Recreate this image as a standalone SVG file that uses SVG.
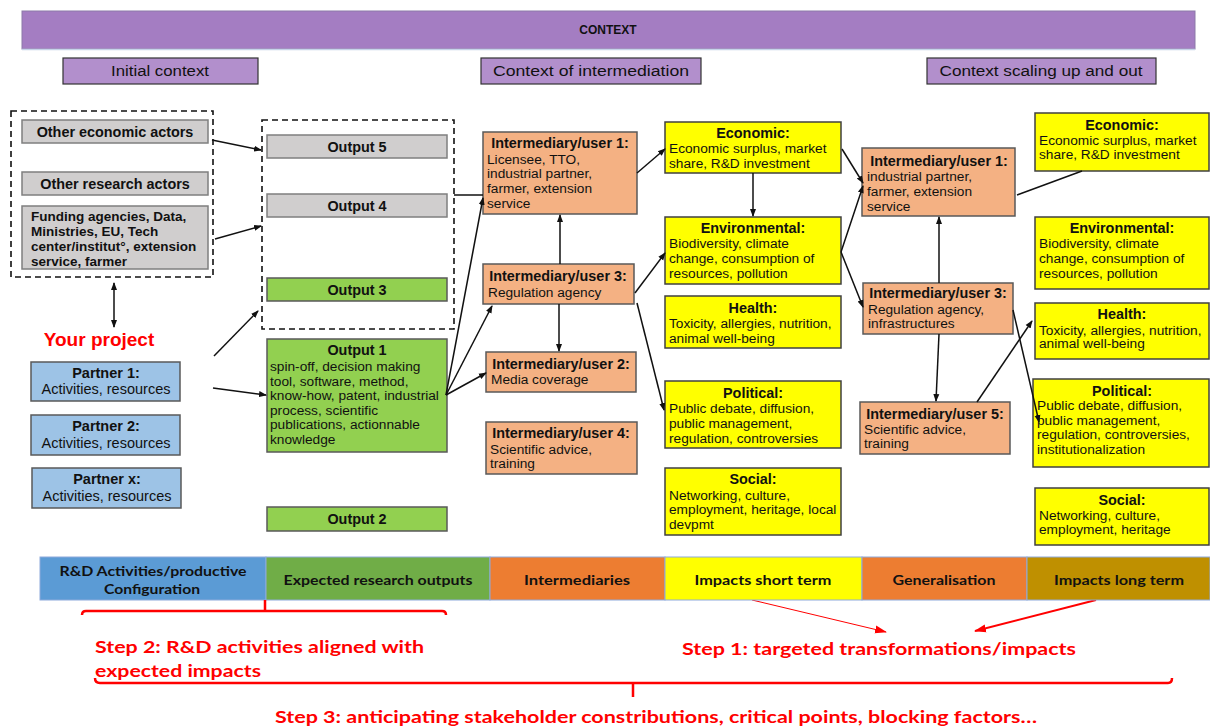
<svg xmlns="http://www.w3.org/2000/svg" width="1210" height="726" viewBox="0 0 1210 726">
<style>
text{font-family:"Liberation Sans",Arial,sans-serif;fill:#111}
.b{font-weight:bold}
.t13{font-size:13.7px}
.tb{font-size:14.4px;font-weight:bold}
.t12{font-size:13.5px;font-weight:bold}
.tp{font-size:14.5px}
.c{text-anchor:middle}
.ctx{fill:#b28fcc;stroke:#333;stroke-width:1.2}
.gray{fill:#d0cece;stroke:#7f7f7f;stroke-width:1.5}
.blue{fill:#9dc3e6;stroke:#595959;stroke-width:1.5}
.green{fill:#92d050;stroke:#595959;stroke-width:1.5}
.orange{fill:#f4b183;stroke:#595959;stroke-width:1.5}
.yellow{fill:#ffff00;stroke:#404040;stroke-width:1.5}
.dash{fill:none;stroke:#111;stroke-width:1.6;stroke-dasharray:6,4}
.ln{stroke:#111;stroke-width:1.5;fill:none}
.ar{marker-end:url(#ah)}
.red{fill:#ff0000;font-family:Lato,"Open Sans",sans-serif;font-weight:bold;font-size:17px}
.bar{font-family:Lato,"Open Sans",sans-serif;font-weight:bold;font-size:14px;text-anchor:middle}
.rl{stroke:#ff0000;fill:none;stroke-width:2.5}
</style>
<defs>
<marker id="ah" markerWidth="8" markerHeight="8" refX="7" refY="4" orient="auto" markerUnits="userSpaceOnUse">
<path d="M0,1 L8,4 L0,7 Z" fill="#111"/>
</marker>
<marker id="ahs" markerWidth="8" markerHeight="8" refX="1" refY="4" orient="auto" markerUnits="userSpaceOnUse">
<path d="M8,1 L0,4 L8,7 Z" fill="#111"/>
</marker>
<marker id="rah" markerWidth="12" markerHeight="10" refX="11" refY="5" orient="auto" markerUnits="userSpaceOnUse">
<path d="M0,1 L12,5 L0,9 Z" fill="#ff0000"/>
</marker>
</defs>

<g id="context">
<rect x="22" y="11" width="1173" height="38" fill="#a47dc2" stroke="#8c7aa8" stroke-width="1"/>
<line x1="22" y1="49.5" x2="1195" y2="49.5" stroke="#c5d3e8" stroke-width="1.5"/>
<text x="608" y="34" class="b c" font-size="12">CONTEXT</text>
</g>
<g id="initial-context">
<rect x="63" y="58" width="195" height="26" class="ctx"/>
<text x="160" y="76" class="c" font-size="14" textLength="98" lengthAdjust="spacingAndGlyphs">Initial context</text>
</g>
<g id="context-intermediation">
<rect x="481" y="58" width="220" height="26" class="ctx"/>
<text x="591" y="76" class="c" font-size="14" textLength="196" lengthAdjust="spacingAndGlyphs">Context of intermediation</text>
</g>
<g id="context-scaling">
<rect x="927" y="58" width="229" height="26" class="ctx"/>
<text x="1041" y="76" class="c" font-size="14" textLength="203" lengthAdjust="spacingAndGlyphs">Context scaling up and out</text>
</g>

<g id="actors-group">
<rect x="11" y="111" width="202" height="166" class="dash"/>
</g>
<g id="other-economic-actors">
<rect x="22" y="120" width="186" height="23" class="gray"/>
<text x="115" y="137" class="tb c">Other economic actors</text>
</g>
<g id="other-research-actors">
<rect x="22" y="172" width="186" height="23" class="gray"/>
<text x="115" y="189" class="tb c">Other research actors</text>
</g>
<g id="funding-agencies">
<rect x="22" y="206" width="186" height="63" class="gray"/>
<text class="t12"><tspan x="31" y="221">Funding agencies, Data,</tspan><tspan x="31" y="236">Ministries, EU, Tech</tspan><tspan x="31" y="251">center/institut°, extension</tspan><tspan x="31" y="266">service, farmer</tspan></text>
</g>

<g id="your-project">
<text x="99" y="346" class="b c" font-size="19" style="fill:#ff0000">Your project</text>
</g>
<g id="partner-1">
<rect x="31" y="362" width="149" height="39" class="blue"/>
<text x="106" y="378" class="b c tp">Partner 1:</text>
<text x="106" y="394" class="c tp">Activities, resources</text>
</g>
<g id="partner-2">
<rect x="31" y="415" width="149" height="40" class="blue"/>
<text x="106" y="431" class="b c tp">Partner 2:</text>
<text x="106" y="448" class="c tp">Activities, resources</text>
</g>
<g id="partner-x">
<rect x="32" y="468" width="149" height="40" class="blue"/>
<text x="107" y="484" class="b c tp">Partner x:</text>
<text x="107" y="501" class="c tp">Activities, resources</text>
</g>

<g id="outputs-group">
<rect x="262" y="120" width="192" height="209" class="dash"/>
</g>
<g id="output-5">
<rect x="267" y="135" width="180" height="23" class="gray"/>
<text x="357" y="152" class="tb c">Output 5</text>
</g>
<g id="output-4">
<rect x="267" y="194" width="180" height="23" class="gray"/>
<text x="357" y="211" class="tb c">Output 4</text>
</g>
<g id="output-3">
<rect x="267" y="278" width="180" height="23" class="green"/>
<text x="357" y="295" class="tb c">Output 3</text>
</g>
<g id="output-1">
<rect x="267" y="339" width="180" height="113" class="green"/>
<text x="357" y="355" class="tb c">Output 1</text>
<text class="t13"><tspan x="270" y="371">spin-off, decision making</tspan><tspan x="270" y="386">tool, software, method,</tspan><tspan x="270" y="400">know-how, patent, industrial</tspan><tspan x="270" y="415">process, scientific</tspan><tspan x="270" y="429">publications, actionnable</tspan><tspan x="270" y="444">knowledge</tspan></text>
</g>
<g id="output-2">
<rect x="267" y="507" width="180" height="24" class="green"/>
<text x="357" y="524" class="tb c">Output 2</text>
</g>

<g id="intermediary-1">
<rect x="483" y="132" width="154" height="82" class="orange"/>
<text x="560" y="148" class="tb c">Intermediary/user 1:</text>
<text class="t13"><tspan x="487" y="164">Licensee, TTO,</tspan><tspan x="487" y="178">industrial partner,</tspan><tspan x="487" y="193">farmer, extension</tspan><tspan x="487" y="208">service</tspan></text>
</g>
<g id="intermediary-3">
<rect x="483" y="264" width="151" height="40" class="orange"/>
<text x="558" y="281" class="tb c">Intermediary/user 3:</text>
<text x="488" y="297" class="t13">Regulation agency</text>
</g>
<g id="intermediary-2">
<rect x="486" y="352" width="150" height="40" class="orange"/>
<text x="561" y="369" class="tb c">Intermediary/user 2:</text>
<text x="491" y="384" class="t13">Media coverage</text>
</g>
<g id="intermediary-4">
<rect x="486" y="422" width="151" height="52" class="orange"/>
<text x="561" y="438" class="tb c">Intermediary/user 4:</text>
<text class="t13"><tspan x="490" y="454">Scientific advice,</tspan><tspan x="490" y="468">training</tspan></text>
</g>

<g id="economic-short">
<rect x="665" y="122" width="176" height="51" class="yellow"/>
<text x="753" y="138" class="tb c">Economic:</text>
<text class="t13"><tspan x="669" y="153">Economic surplus, market</tspan><tspan x="669" y="168">share, R&amp;D investment</tspan></text>
</g>
<g id="environmental-short">
<rect x="665" y="217" width="176" height="67" class="yellow"/>
<text x="753" y="233" class="tb c">Environmental:</text>
<text class="t13"><tspan x="669" y="248">Biodiversity, climate</tspan><tspan x="669" y="263">change, consumption of</tspan><tspan x="669" y="278">resources, pollution</tspan></text>
</g>
<g id="health-short">
<rect x="665" y="296" width="176" height="52" class="yellow"/>
<text x="753" y="313" class="tb c">Health:</text>
<text class="t13"><tspan x="669" y="328">Toxicity, allergies, nutrition,</tspan><tspan x="669" y="343">animal well-being</tspan></text>
</g>
<g id="political-short">
<rect x="665" y="381" width="176" height="67" class="yellow"/>
<text x="753" y="398" class="tb c">Political:</text>
<text class="t13"><tspan x="669" y="413">Public debate, diffusion,</tspan><tspan x="669" y="428">public management,</tspan><tspan x="669" y="443">regulation, controversies</tspan></text>
</g>
<g id="social-short">
<rect x="665" y="468" width="176" height="67" class="yellow"/>
<text x="753" y="484" class="tb c">Social:</text>
<text class="t13"><tspan x="669" y="500">Networking, culture,</tspan><tspan x="669" y="514">employment, heritage, local</tspan><tspan x="669" y="529">devpmt</tspan></text>
</g>

<g id="intermediary-1b">
<rect x="862" y="148" width="153" height="68" class="orange"/>
<text x="939" y="166" class="tb c">Intermediary/user 1:</text>
<text class="t13"><tspan x="867" y="181">industrial partner,</tspan><tspan x="867" y="196">farmer, extension</tspan><tspan x="867" y="211">service</tspan></text>
</g>
<g id="intermediary-3b">
<rect x="863" y="283" width="150" height="51" class="orange"/>
<text x="938" y="298" class="tb c">Intermediary/user 3:</text>
<text class="t13"><tspan x="868" y="314">Regulation agency,</tspan><tspan x="868" y="328">infrastructures</tspan></text>
</g>
<g id="intermediary-5">
<rect x="860" y="402" width="150" height="52" class="orange"/>
<text x="935" y="419" class="tb c">Intermediary/user 5:</text>
<text class="t13"><tspan x="864" y="434">Scientific advice,</tspan><tspan x="864" y="448">training</tspan></text>
</g>

<g id="economic-long">
<rect x="1035" y="113" width="174" height="58" class="yellow"/>
<text x="1122" y="130" class="tb c">Economic:</text>
<text class="t13"><tspan x="1039" y="145">Economic surplus, market</tspan><tspan x="1039" y="159">share, R&amp;D investment</tspan></text>
</g>
<g id="environmental-long">
<rect x="1035" y="217" width="174" height="72" class="yellow"/>
<text x="1122" y="233" class="tb c">Environmental:</text>
<text class="t13"><tspan x="1039" y="248">Biodiversity, climate</tspan><tspan x="1039" y="263">change, consumption of</tspan><tspan x="1039" y="278">resources, pollution</tspan></text>
</g>
<g id="health-long">
<rect x="1035" y="303" width="174" height="56" class="yellow"/>
<text x="1122" y="319" class="tb c">Health:</text>
<text class="t13"><tspan x="1039" y="335">Toxicity, allergies, nutrition,</tspan><tspan x="1039" y="348">animal well-being</tspan></text>
</g>
<g id="political-long">
<rect x="1033" y="379" width="176" height="88" class="yellow"/>
<text x="1122" y="396" class="tb c">Political:</text>
<text class="t13"><tspan x="1037" y="410">Public debate, diffusion,</tspan><tspan x="1037" y="425">public management,</tspan><tspan x="1037" y="439">regulation, controversies,</tspan><tspan x="1037" y="454">institutionalization</tspan></text>
</g>
<g id="social-long">
<rect x="1035" y="488" width="174" height="57" class="yellow"/>
<text x="1122" y="505" class="tb c">Social:</text>
<text class="t13"><tspan x="1039" y="520">Networking, culture,</tspan><tspan x="1039" y="534">employment, heritage</tspan></text>
</g>

<g id="connectors">
<line x1="212" y1="140" x2="261" y2="150" class="ln ar"/>
<line x1="215" y1="239" x2="261" y2="226" class="ln ar"/>
<line x1="214" y1="356" x2="258" y2="311" class="ln ar"/>
<line x1="213" y1="388" x2="266" y2="395" class="ln ar"/>
<line x1="114" y1="283" x2="114" y2="327" class="ln ar" marker-start="url(#ahs)"/>
<line x1="454" y1="195" x2="483" y2="195" class="ln"/>
<line x1="446" y1="395" x2="483" y2="198" class="ln ar"/>
<line x1="446" y1="395" x2="492" y2="306" class="ln ar" stroke-width="2.6"/>
<line x1="446" y1="395" x2="486" y2="373" class="ln ar"/>
<line x1="560" y1="264" x2="560" y2="215" class="ln ar"/>
<line x1="559" y1="304" x2="559" y2="351" class="ln ar"/>
<line x1="637" y1="173" x2="665" y2="149" class="ln ar"/>
<line x1="635" y1="293" x2="665" y2="253" class="ln ar"/>
<line x1="637" y1="303" x2="664" y2="410" class="ln ar"/>
<line x1="753" y1="173" x2="753" y2="216" class="ln ar"/>
<line x1="842" y1="149" x2="863" y2="183" class="ln ar"/>
<line x1="841" y1="252" x2="863" y2="186" class="ln ar"/>
<line x1="841" y1="252" x2="863" y2="307" class="ln ar"/>
<line x1="939" y1="283" x2="939" y2="217" class="ln ar"/>
<line x1="939" y1="334" x2="936" y2="401" class="ln ar"/>
<line x1="977" y1="402" x2="1032" y2="321" class="ln ar"/>
<line x1="1013" y1="310" x2="1039" y2="422" class="ln ar"/>
<line x1="1017" y1="195" x2="1082" y2="171" class="ln"/>
<line x1="752" y1="600" x2="886" y2="632" stroke="#ff0000" stroke-width="1" marker-end="url(#rah)"/>
<line x1="1096" y1="600" x2="975" y2="631" stroke="#ff0000" stroke-width="2" marker-end="url(#rah)"/>
</g>

<g id="timeline">
<rect x="40" y="557" width="226" height="43" fill="#5b9bd5" stroke="#8eaadb"/>
<rect x="266" y="557" width="224" height="43" fill="#70ad47" stroke="#8eaadb"/>
<rect x="490" y="557" width="175" height="43" fill="#ed7d31" stroke="#8eaadb"/>
<rect x="665" y="557" width="197" height="43" fill="#ffff00" stroke="#8eaadb"/>
<rect x="862" y="557" width="165" height="43" fill="#ed7d31" stroke="#8eaadb"/>
<rect x="1027" y="557" width="183" height="43" fill="#bf9000" stroke="#8eaadb"/>
<text x="153" y="576" class="bar" textLength="187" lengthAdjust="spacingAndGlyphs">R&amp;D Activities/productive</text>
<text x="152" y="594" class="bar" textLength="96" lengthAdjust="spacingAndGlyphs">Configuration</text>
<text x="378" y="585" class="bar" textLength="189" lengthAdjust="spacingAndGlyphs">Expected research outputs</text>
<text x="577" y="585" class="bar" textLength="106" lengthAdjust="spacingAndGlyphs">Intermediaries</text>
<text x="763" y="585" class="bar" textLength="137" lengthAdjust="spacingAndGlyphs">Impacts short term</text>
<text x="944" y="585" class="bar" textLength="103" lengthAdjust="spacingAndGlyphs">Generalisation</text>
<text x="1119" y="585" class="bar" textLength="130" lengthAdjust="spacingAndGlyphs">Impacts long term</text>
</g>

<g id="steps">
<path d="M82,615 Q82,611 86,611 L442,611 Q446,611 446,615 M265,600 L265,611" class="rl"/>
<path d="M95,678 Q95,683 100,683 L1168,683 Q1172,683 1172,678 M633,683 L633,697" class="rl"/>
<text x="95" y="653" class="red" textLength="329" lengthAdjust="spacingAndGlyphs">Step 2: R&amp;D activities aligned with</text>
<text x="95" y="677" class="red" textLength="166" lengthAdjust="spacingAndGlyphs">expected impacts</text>
<text x="682" y="655" class="red" textLength="394" lengthAdjust="spacingAndGlyphs">Step 1: targeted transformations/impacts</text>
<text x="275" y="723" class="red" textLength="762" lengthAdjust="spacingAndGlyphs">Step 3: anticipating stakeholder constributions, critical points, blocking factors…</text>
</g>
</svg>
